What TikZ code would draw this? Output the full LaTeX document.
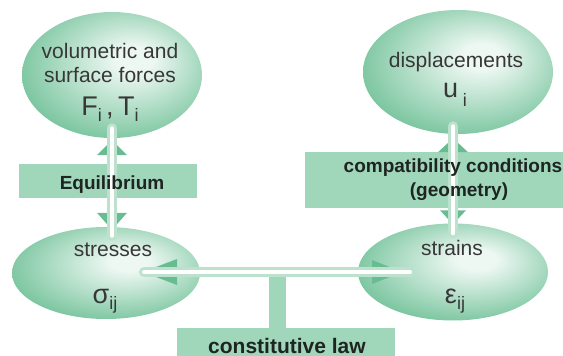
\documentclass[tikz,border=0pt]{standalone}
\usepackage{fontspec}
\setmainfont{Liberation Sans}
\usetikzlibrary{shapes.geometric,calc}
\definecolor{ellin}{RGB}{238,248,243}
\definecolor{ellout}{RGB}{110,192,150}
\definecolor{boxg}{RGB}{160,214,186}
\definecolor{headg}{RGB}{104,188,146}
\definecolor{shaftg}{RGB}{188,226,206}
\definecolor{txt}{RGB}{55,55,55}
\definecolor{btxt}{RGB}{30,36,33}
\pgfdeclareradialshading{ellsh}{\pgfpoint{7bp}{7bp}}{color(0bp)=(ellin); color(5bp)=(ellin); color(32bp)=(ellout); color(50bp)=(ellout)}
\begin{document}
\begin{tikzpicture}[x=1pt,y=-1pt,
  ell/.style={ellipse, shade, shading=ellsh, draw=none, inner sep=0pt},
  gbox/.style={fill=boxg, draw=none, inner sep=0pt, anchor=north west},
  lbl/.style={text=txt, font=\fontsize{21}{21}\selectfont, anchor=base, inner sep=0pt},
  blbl/.style={text=btxt, font=\bfseries\fontsize{19}{19}\selectfont, anchor=base, inner sep=0pt},
  sym/.style={text=txt, font=\fontsize{27}{27}\selectfont, anchor=base, inner sep=0pt},
  head/.style={fill=headg, draw=none},
  shaftout/.style={draw=shaftg, line width=10pt, line cap=round},
  shaftin/.style={draw=white, line width=4pt, line cap=round},
  stem/.style={draw=boxg, line width=17pt}
]
\useasboundingbox (0,0) rectangle (563,356);
% ellipses
\node[ell, minimum width=180pt, minimum height=126pt] (fo) at (112,75) {};
\node[ell, minimum width=190pt, minimum height=124pt] (di) at (458,72) {};
\node[ell, minimum width=188pt, minimum height=92pt] (st) at (106,273) {};
\node[ell, minimum width=190pt, minimum height=97pt] (sn) at (453,272) {};
% boxes
\node[gbox, minimum width=178pt, minimum height=34pt] (eqb) at (19,164) {};
\node[gbox, minimum width=258pt, minimum height=56pt] (ccb) at (305,152) {};
\node[gbox, minimum width=218pt, minimum height=28pt] (clb) at (177,328) {};
% stem from constitutive law box to horizontal arrow
\coordinate (stemtop) at (277,272);
\draw[stem] (stemtop) -- (stemtop |- clb.north);
% arrow heads
\coordinate (lt) at ($(fo.south)+(0,2)$);
\coordinate (lb) at ($(fo.south |- st.north)+(0,3)$);
\fill[head] (lt) -- ++(-15,15) -- ++(30,0) -- cycle;
\fill[head] (lb) -- ++(-15,-17) -- ++(30,0) -- cycle;
\coordinate (rt) at ($(sn.north |- di.south)+(0,4)$);
\coordinate (rb) at ($(sn.north)+(0,1)$);
\fill[head] (rt) -- ++(-15,14) -- ++(30,0) -- cycle;
\fill[head] (rb) -- ++(-13,-14) -- ++(26,0) -- cycle;
\coordinate (hl) at ($(st.center |- sn.center)+(37,0)$);
\coordinate (hr) at ($(sn.center)+(-51,0)$);
\fill[head] (hl) -- ++(34,-13) -- ++(0,26) -- cycle;
\fill[head] (hr) -- ++(-30,-12) -- ++(0,24) -- cycle;
% shafts
\draw[shaftout] ($(fo.south)+(0,-10)$) -- ($(fo.south |- st.north)+(0,9)$);
\draw[shaftin]  ($(fo.south)+(0,-10)$) -- ($(fo.south |- st.north)+(0,9)$);
\draw[shaftout] ($(sn.north |- di.south)+(0,-8)$) -- ($(sn.north)+(0,10)$);
\draw[shaftin]  ($(sn.north |- di.south)+(0,-8)$) -- ($(sn.north)+(0,10)$);
\draw[shaftout] ($(st.center |- sn.center)+(38,0)$) -- ($(sn.center)+(-43,0)$);
\draw[shaftin]  ($(st.center |- sn.center)+(38,0)$) -- ($(sn.center)+(-43,0)$);
% ellipse texts
\node[lbl] (fo1) at (110,58) {volumetric and};
\node[lbl] (fo2) at (110,82) {surface forces};
\node[sym] (fo3) at (110,115) {F\raisebox{-6pt}{\fontsize{18}{18}\selectfont i}\,,\,T\raisebox{-6pt}{\fontsize{18}{18}\selectfont i}};
\node[lbl] (di1) at (456,67) {displacements};
\node[sym] (di2) at (455,97) {u\,\raisebox{-9pt}{\fontsize{18}{18}\selectfont i}};
\node[lbl] (st1) at (113,256) {stresses};
\node[sym] (st2) at (105,303) {σ\raisebox{-6pt}{\fontsize{18}{18}\selectfont ij}};
\node[lbl] (sn1) at (452,255) {strains};
\node[sym] (sn2) at (455,303) {ε\raisebox{-6pt}{\fontsize{18}{18}\selectfont ij}};
% box texts
\node[blbl] (eqt) at (112,189) {Equilibrium};
\node[blbl] (cct1) at (453,172) {compatibility conditions};
\node[blbl] (cct2) at (459,196) {(geometry)};
\node[blbl, font=\bfseries\fontsize{21}{21}\selectfont] (clt) at (287,353) {constitutive law};
\end{tikzpicture}
\end{document}
